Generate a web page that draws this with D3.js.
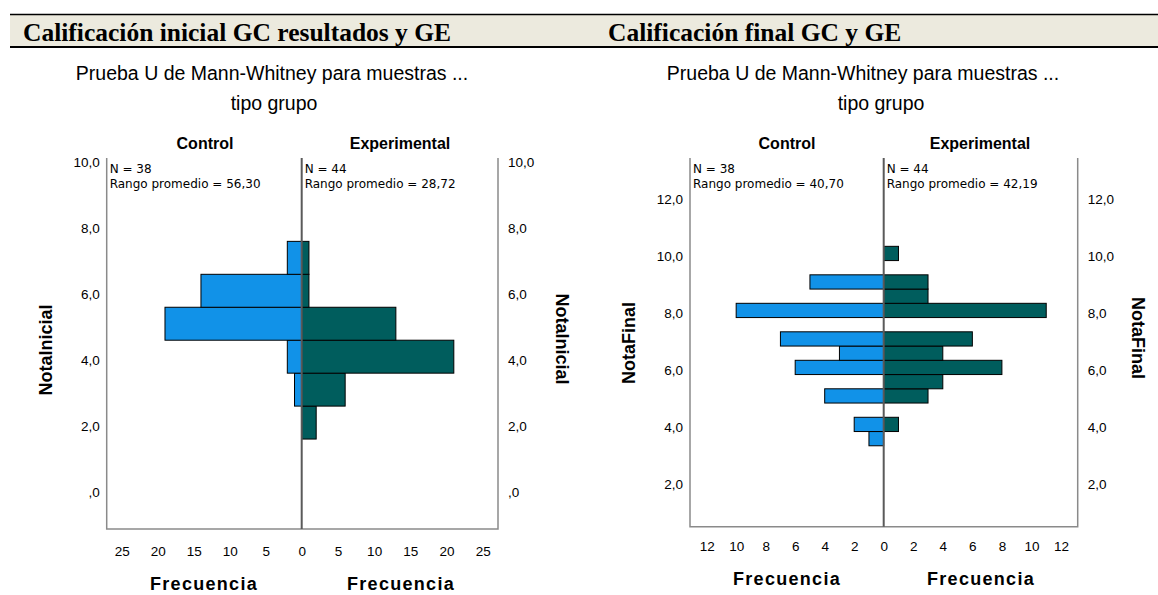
<!DOCTYPE html>
<html>
<head>
<meta charset="utf-8">
<script src="https://cdn.jsdelivr.net/npm/d3@7"></script>
<style>
	body { margin: 0; background: #fff; }
	svg { display: block; }
	text { font-family: "Liberation Sans", Arial, sans-serif; fill: #000; }
</style>
</head>
<body>
<div id="chart"></div>
<script>
// header titles
const headerTitles = ['Calificación inicial GC resultados y GE', 'Calificación final GC y GE'];
const groups = ['Control', 'Experimental'];

// NotaInicial: bin starts (width 1.0) and frequencies
const initBins = [1.6, 2.6, 3.6, 4.6, 5.6, 6.6];
const initControl = [0, 1, 2, 19, 14, 2];
const initExperimental = [2, 6, 21, 13, 1, 1];
const initN = ['N = 38', 'N = 44'];
const initRank = ['Rango promedio = 56,30', 'Rango promedio = 28,72'];
const initYTicks = [0, 2, 4, 6, 8, 10];
const initXTicks = [0, 5, 10, 15, 20, 25];

// NotaFinal: bin starts (width 0.5) and frequencies
const finalBins = [3.35, 3.85, 4.35, 4.85, 5.35, 5.85, 6.35, 6.85, 7.35, 7.85, 8.35, 8.85, 9.35, 9.85];
const finalControl = [1, 2, 0, 4, 0, 6, 3, 7, 0, 10, 0, 5, 0, 0];
const finalExperimental = [0, 1, 0, 3, 4, 8, 4, 6, 0, 11, 3, 3, 0, 1];
const finalN = ['N = 38', 'N = 44'];
const finalRank = ['Rango promedio = 40,70', 'Rango promedio = 42,19'];
const finalYTicks = [2, 4, 6, 8, 10, 12];
const finalXTicks = [0, 2, 4, 6, 8, 10, 12];

const W = 1158, H = 595;
const colors = ['#1192e8', '#005d5d'];
const es = d3.formatLocale({ decimal: ',', thousands: '.', grouping: [3], currency: ['', '€'] });
const fmtY = (d) => es.format('.1f')(d).replace(/^0,/, ',');

const svg = d3.select('#chart')
	.append('svg')
	.attr('width', W)
	.attr('height', H);

// beige header band
svg.append('rect')
	.attr('x', 10).attr('y', 15)
	.attr('width', W - 10).attr('height', 32)
	.attr('fill', '#eceade');
svg.append('line')
	.attr('x1', 10).attr('x2', W).attr('y1', 14.5).attr('y2', 14.5)
	.attr('stroke', '#000').attr('stroke-width', 1.5);
svg.append('line')
	.attr('x1', 10).attr('x2', W).attr('y1', 47).attr('y2', 47)
	.attr('stroke', '#000').attr('stroke-width', 2);
svg.selectAll('.head')
	.data(headerTitles)
	.enter()
	.append('text')
	.attr('class', 'head')
	.attr('x', (d, i) => i ? 608 : 23)
	.attr('y', 41)
	.style('font-family', '"Liberation Serif", "Times New Roman", serif')
	.style('font-weight', 'bold')
	.style('font-size', '25.5px')
	.text((d) => d);

class Pyramid {
	constructor(opts) {
		Object.assign(this, opts);

		this.g = svg.append('g');

		this.y = d3.scaleLinear()
			.domain(this.yDomain)
			.range([this.bottom, this.top]);

		this.xl = d3.scaleLinear()
			.domain([0, this.xMax])
			.range([this.center, this.left]);

		this.xr = d3.scaleLinear()
			.domain([0, this.xMax])
			.range([this.center, this.right]);

		this.drawTitles();
		this.drawBars();
		this.drawFrame();
		this.drawAxes();
	}

	drawTitles() {
		let { g } = this;

		g.append('text')
			.attr('x', this.titleX)
			.attr('y', 80)
			.attr('text-anchor', 'middle')
			.style('font-size', '19.5px')
			.text('Prueba U de Mann-Whitney para muestras ...');

		g.append('text')
			.attr('x', this.subX)
			.attr('y', 110)
			.attr('text-anchor', 'middle')
			.style('font-size', '19.5px')
			.text('tipo grupo');

		g.selectAll('.grp')
			.data(groups)
			.enter()
			.append('text')
			.attr('class', 'grp')
			.attr('x', (d, i) => this.groupX[i])
			.attr('y', 148.5)
			.attr('text-anchor', 'middle')
			.style('font-size', '16px')
			.style('font-weight', 'bold')
			.text((d) => d);

		[0, 1].forEach((i) => {
			let x = i ? this.center + 3 : this.left + 3;
			g.append('text')
				.attr('x', x).attr('y', 173)
				.style('font-family', '"DejaVu Sans", sans-serif')
				.style('font-size', '12px')
				.text(this.nText[i]);
			g.append('text')
				.attr('x', x).attr('y', 187.5)
				.style('font-family', '"DejaVu Sans", sans-serif')
				.style('font-size', '12px')
				.text(this.rankText[i]);
		});
	}

	drawBars() {
		let { g, y, xl, xr, bins, binWidth } = this;

		let rows = bins.map((b, i) => ({ start: b, control: this.control[i], experimental: this.experimental[i] }));

		g.append('g')
			.selectAll('rect')
			.data(rows.filter((d) => d.control > 0))
			.enter()
			.append('rect')
			.attr('x', (d) => xl(d.control))
			.attr('y', (d) => y(d.start + binWidth))
			.attr('width', (d) => xl(0) - xl(d.control))
			.attr('height', (d) => y(d.start) - y(d.start + binWidth))
			.attr('fill', colors[0])
			.attr('stroke', '#000')
			.attr('stroke-width', 1);

		g.append('g')
			.selectAll('rect')
			.data(rows.filter((d) => d.experimental > 0))
			.enter()
			.append('rect')
			.attr('x', xr(0))
			.attr('y', (d) => y(d.start + binWidth))
			.attr('width', (d) => xr(d.experimental) - xr(0))
			.attr('height', (d) => y(d.start) - y(d.start + binWidth))
			.attr('fill', colors[1])
			.attr('stroke', '#000')
			.attr('stroke-width', 1);
	}

	drawFrame() {
		let { g, left, right, top, bottom, center } = this;

		g.append('path')
			.attr('d', `M${left},${top}V${bottom}H${right}V${top}`)
			.attr('fill', 'none')
			.attr('stroke', '#8a8a8a')
			.attr('stroke-width', 1.5);

		g.append('line')
			.attr('x1', center).attr('x2', center)
			.attr('y1', top).attr('y2', bottom)
			.attr('stroke', '#5a5a5a')
			.attr('stroke-width', 2);
	}

	drawAxes() {
		let { g, y, xl, xr } = this;

		let axL = d3.axisLeft(y).tickValues(this.yTicks).tickFormat(fmtY).tickSize(0).tickPadding(7);
		let axR = d3.axisRight(y).tickValues(this.yTicks).tickFormat(fmtY).tickSize(0).tickPadding(10);

		let gl = g.append('g').attr('transform', `translate(${this.left},0)`).call(axL);
		let gr = g.append('g').attr('transform', `translate(${this.right},0)`).call(axR);

		let bx1 = d3.axisBottom(xl).tickValues(this.xTicks).tickSize(0).tickPadding(this.xPad);
		let bx2 = d3.axisBottom(xr).tickValues(this.xTicks.filter((d) => d > 0)).tickSize(0).tickPadding(this.xPad);

		let gb1 = g.append('g').attr('transform', `translate(0,${this.bottom})`).call(bx1);
		let gb2 = g.append('g').attr('transform', `translate(0,${this.bottom})`).call(bx2);

		[gl, gr, gb1, gb2].forEach((a) => {
			a.select('.domain').remove();
			a.selectAll('text')
				.style('font-family', '"Liberation Sans", Arial, sans-serif')
				.style('font-size', '13.5px')
				.attr('fill', '#222');
		});

		g.selectAll('.freq')
			.data([0, 1])
			.enter()
			.append('text')
			.attr('class', 'freq')
			.attr('x', (d) => this.freqX[d])
			.attr('y', this.freqY)
			.attr('text-anchor', 'middle')
			.style('font-size', '18px')
			.style('font-weight', 'bold')
			.style('letter-spacing', '1.3px')
			.text('Frecuencia');

		g.append('text')
			.attr('transform', `translate(${this.yTitleX[0] + 6.5},${this.yTitleY[0]}) rotate(-90)`)
			.attr('text-anchor', 'middle')
			.style('font-size', '18px')
			.style('font-weight', 'bold')
			.text(this.yTitle);

		g.append('text')
			.attr('transform', `translate(${this.yTitleX[1] - 6.5},${this.yTitleY[1]}) rotate(90)`)
			.attr('text-anchor', 'middle')
			.style('font-size', '18px')
			.style('font-weight', 'bold')
			.text(this.yTitle);
	}
}

new Pyramid({
	left: 106.7, center: 301.7, right: 498, top: 158, bottom: 529,
	yDomain: [-1.13, 10.13], xMax: 27.1,
	bins: initBins, binWidth: 1, control: initControl, experimental: initExperimental,
	nText: initN, rankText: initRank,
	yTicks: initYTicks, xTicks: initXTicks, xPad: 17,
	titleX: 272, subX: 274, groupX: [205, 400],
	freqX: [204, 401], freqY: 590,
	yTitle: 'NotaInicial', yTitleX: [45, 562], yTitleY: [350, 339]
});

new Pyramid({
	left: 690, center: 883.7, right: 1077.7, top: 158, bottom: 526.7,
	yDomain: [0.51, 13.45], xMax: 13.13,
	bins: finalBins, binWidth: 0.5, control: finalControl, experimental: finalExperimental,
	nText: finalN, rankText: finalRank,
	yTicks: finalYTicks, xTicks: finalXTicks, xPad: 15,
	titleX: 863, subX: 881, groupX: [787, 980],
	freqX: [787, 981], freqY: 585,
	yTitle: 'NotaFinal', yTitleX: [628, 1138], yTitleY: [343, 338]
});
</script>
</body>
</html>
